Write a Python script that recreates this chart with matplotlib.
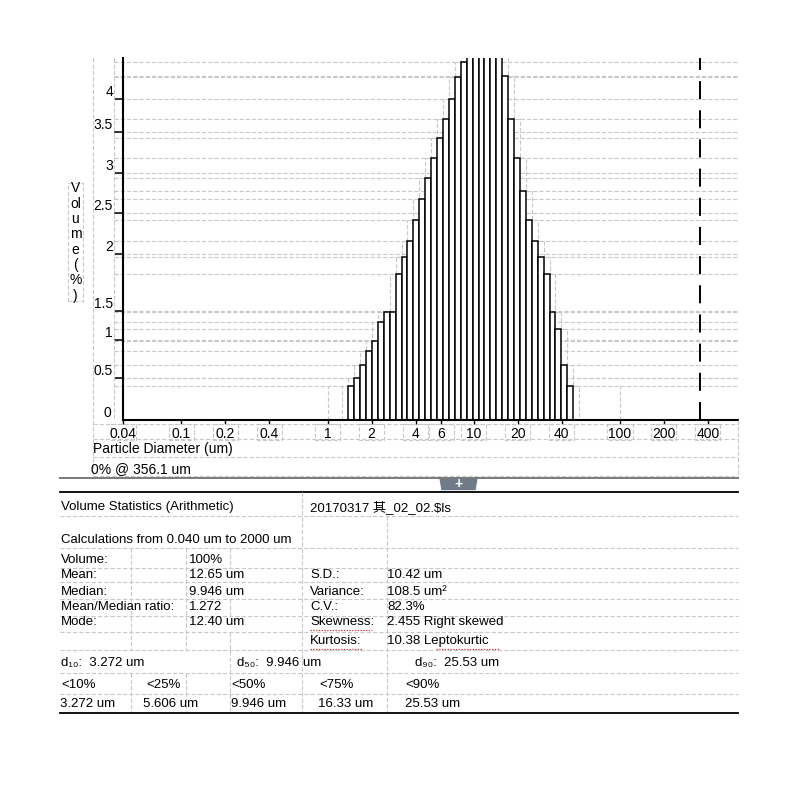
import matplotlib
matplotlib.use("Agg")
import matplotlib.pyplot as plt
import numpy as np
from matplotlib.lines import Line2D
from matplotlib.patches import Rectangle, Polygon

plt.rcParams["font.family"] = ["Liberation Sans", "Noto Sans CJK SC", "DejaVu Sans"]
plt.rcParams["lines.scale_dashes"] = False

# Coulter LS channel edges (um) that hold volume
channel_edges = [1.385, 1.520, 1.669, 1.832, 2.011, 2.207, 2.423, 2.660, 2.920,
                 3.206, 3.519, 3.862, 4.241, 4.656, 5.111, 5.611, 6.159, 6.761,
                 7.421, 8.148, 8.944, 9.819, 10.78, 11.83, 12.99, 14.26, 15.65,
                 17.18, 18.86, 20.71, 22.73, 24.95, 27.39, 30.07, 33.01, 36.24,
                 39.78, 43.67, 47.94]
# volume % per channel (peak channels run off the top of the chart)
volume_pct = [0.42, 0.52, 0.69, 0.86, 0.99, 1.22, 1.35, 1.35, 1.82, 2.03,
              2.23, 2.49, 2.75, 3.02, 3.27, 3.51, 3.75, 4.00, 4.28, 4.47,
              4.60, 4.80, 4.95, 5.00, 4.85, 4.55, 4.29, 3.75, 3.27, 2.85,
              2.49, 2.23, 2.03, 1.82, 1.35, 1.13, 0.69, 0.42]
cursor_um = 356.1

x_ticks = [0.04, 0.1, 0.2, 0.4, 1, 2, 4, 6, 10, 20, 40, 100, 200, 400]
x_labels = ["0.04", "0.1", "0.2", "0.4", "1", "2", "4", "6", "10", "20", "40", "100", "200", "400"]
y_ticks = [0.524, 0.998, 1.359, 2.07, 2.58, 3.08, 3.59, 4.0]
y_labels = ["0.5", "1", "1.5", "2", "2.5", "3", "3.5", "4"]

stats_left = [("Volume:", "100%"), ("Mean:", "12.65 um"), ("Median:", "9.946 um"),
              ("Mean/Median ratio:", "1.272"), ("Mode:", "12.40 um")]
stats_right = [("S.D.:", "10.42 um"), ("Variance:", "108.5 um²"), ("C.V.:", "82.3%"),
               ("Skewness:", "2.455 Right skewed"), ("Kurtosis:", "10.38 Leptokurtic")]
d_labels = ["d₁₀:  3.272 um", "d₅₀:  9.946 um", "d₉₀:  25.53 um"]
pct_labels = ["<10%", "<25%", "<50%", "<75%", "<90%"]
pct_values = ["3.272 um", "5.606 um", "9.946 um", "16.33 um", "25.53 um"]

W = 800.0
GRAY = "#c8c8c8"
FS = 9.5
AFS = 10


def fx(px):
    return px / W


def fy(py):
    return 1 - py / W


def fline(x0, y0, x1, y1, **kw):
    fig.add_artist(Line2D([fx(x0), fx(x1)], [fy(y0), fy(y1)], transform=fig.transFigure, **kw))


def fdash(x0, y0, x1, y1):
    fline(x0, y0, x1, y1, color=GRAY, lw=0.8, linestyle=(0, (3, 1.5)))


def ftext(px, py, s, size=FS, **kw):
    fig.text(fx(px), fy(py), s, fontsize=size, va="center", ha="left", **kw)


fig = plt.figure(figsize=(8, 8), dpi=100)
ax = fig.add_axes([fx(123.3), fy(420), (737.7 - 123.3) / W, (420 - 58) / W])

edges = np.array(channel_edges)
heights = np.array(volume_pct)
ymax = 362 / 80.2

# gray dashed grid at every bar level and tick level
levels = sorted(set([h for h in heights if h < ymax] + y_ticks))
ax.hlines(levels, -0.015, 1, transform=ax.get_yaxis_transform(), colors=GRAY,
          lw=0.8, linestyles=[(0, (3, 1.5))], clip_on=False, zorder=0)

# widened shadow outline
ratio = edges[1] / edges[0]
ext_edges = np.concatenate([[edges[0] / ratio], edges, [edges[-1] * ratio]])
padded = np.concatenate([[0, 0], heights, [0, 0]])
shadow = np.array([padded[i:i + 3].max() for i in range(len(padded) - 2)])
ax.stairs(shadow, ext_edges, color=GRAY, lw=0.8, linestyle=(0, (3, 1.5)), zorder=1)
ax.vlines([1, 100], 0, heights[0], colors=GRAY, lw=0.8, linestyles=[(0, (3, 1.5))], zorder=1)

ax.bar(edges[:-1], heights, width=np.diff(edges), align="edge", facecolor="white",
       edgecolor="black", lw=1.1, zorder=2)
ax.axvline(cursor_um, color="black", lw=1.4, linestyle=(0, (13, 8)), zorder=3)

ax.set_xscale("log")
ax.set_xlim(0.04, 640)
ax.set_ylim(0, ymax)
ax.set_xticks(x_ticks, x_labels)
ax.xaxis.set_minor_locator(matplotlib.ticker.NullLocator())
ax.set_yticks(y_ticks, y_labels)
ax.tick_params(axis="x", direction="out", length=3, width=1, pad=2, labelsize=AFS)
ax.tick_params(axis="y", direction="out", length=6.5, width=1.1, pad=1, labelsize=AFS)
for lab in ax.get_yticklabels():
    lab.set_va("bottom")
ax.text(-0.02, 0.004, "0", transform=ax.get_yaxis_transform(), ha="right", va="bottom",
        fontsize=AFS)
for side in ["top", "right"]:
    ax.spines[side].set_visible(False)
for side in ["left", "bottom"]:
    ax.spines[side].set_linewidth(1.5)
ax.set_facecolor("none")

# tick label boxes
for t in x_ticks:
    ax.add_patch(Rectangle((t / 1.22, -0.011), t * 1.22 - t / 1.22, -0.043,
                           transform=ax.get_xaxis_transform(), fill=False, edgecolor=GRAY,
                           lw=0.8, linestyle=(0, (3, 1.5)), clip_on=False))

# y label column and axis label box
fdash(93.3, 58, 93.3, 476)
fdash(114.3, 58, 114.3, 420)
fdash(737.7, 420, 737.7, 476)
fdash(93.3, 424, 737.7, 424)
fdash(93.3, 439.5, 737.7, 439.5)
fdash(93.3, 457.3, 737.7, 457.3)
fdash(93.3, 476, 737.7, 476)
fig.add_artist(Rectangle((fx(68), fy(300.7)), fx(83.3) - fx(68), fy(183.3) - fy(300.7),
                         transform=fig.transFigure, fill=False, edgecolor=GRAY, lw=0.8,
                         linestyle=(0, (3, 1.5))))
fig.text(fx(75.5), fy(242), "V\nol\nu\nm\ne\n(\n%\n)", fontsize=AFS, ha="center",
         va="center", linespacing=1.12)

ftext(93, 449, "Particle Diameter (um)", size=AFS)
ftext(91, 469, "0% @ 356.1 um", size=AFS)

# separator with tab
fline(60, 477.7, 738, 477.7, color="#7a7a7a", lw=1.4)
fig.add_artist(Polygon([(fx(440), fy(478)), (fx(477), fy(478)), (fx(475), fy(489.5)),
                        (fx(442), fy(489.5))], closed=True, transform=fig.transFigure,
                       facecolor="#6f7b88", edgecolor="#6f7b88"))
fig.text(fx(458.5), fy(484), "+", color="white", fontsize=10, fontweight="bold",
         ha="center", va="center")
fline(60, 492.3, 738, 492.3, color="black", lw=1.3)

# statistics table
for yy in [516, 547.7, 568.3, 582.3, 599.3, 615.7, 631.7, 650, 673.3, 694.3]:
    fdash(60, yy, 738, yy)
fdash(302, 492.3, 302, 713)
fdash(386.7, 516, 386.7, 713)
fdash(131, 547.7, 131, 650)
fdash(185.7, 547.7, 185.7, 650)
fdash(185.7, 673.3, 185.7, 713)
fdash(230, 547.7, 230, 568.3)
fdash(230, 599.3, 230, 615.7)
fdash(230, 631.7, 230, 713)
fdash(131, 673.3, 131, 713)

ftext(61, 507, "Volume Statistics (Arithmetic)")
ftext(310, 507, "20170317 其_02_02.$ls")
ftext(61, 540, "Calculations from 0.040 um to 2000 um")
row_y = [560, 575, 592, 607, 622]
for (name, val), yy in zip(stats_left, row_y):
    ftext(61, yy, name)
    ftext(189, yy, val)
row_y2 = [575, 592, 607, 622, 641]
for (name, val), yy in zip(stats_right, row_y2):
    ftext(310, yy, name)
    ftext(387, yy, val)
for x0, x1, yy in [(310, 372, 630), (310, 362, 649), (436, 500, 649)]:
    fline(x0, yy, x1, yy, color="#d04040", lw=0.9, linestyle=(0, (1, 1)))

for s, xx in zip(d_labels, [61, 237, 415]):
    ftext(xx, 663, s)
for s, xx in zip(pct_labels, [61, 146, 231, 319, 405]):
    ftext(xx, 685, s)
for s, xx in zip(pct_values, [60, 143, 231, 318, 405]):
    ftext(xx, 704, s)
fline(60, 713.3, 738, 713.3, color="black", lw=1.3)

fig.savefig("out.png", dpi=100, facecolor="white")
